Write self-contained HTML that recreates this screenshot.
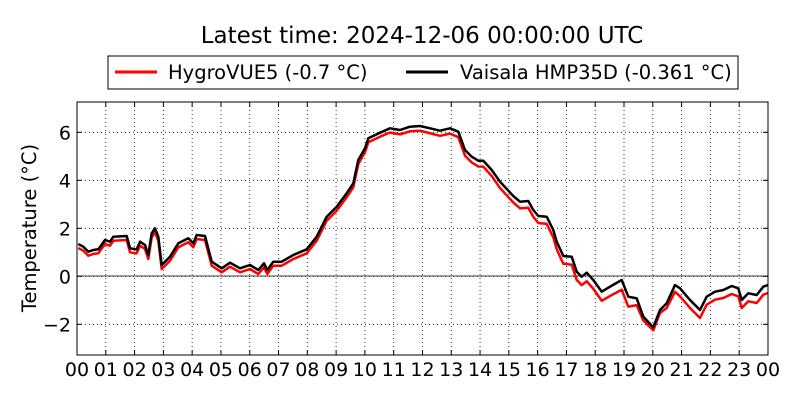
<!DOCTYPE html>
<html><head><meta charset="utf-8"><style>
body{margin:0;background:#fff;}
svg{display:block;font-family:"DejaVu Sans","Liberation Sans",sans-serif;}
</style></head><body>
<svg id="s" width="800" height="400" xmlns="http://www.w3.org/2000/svg">
<rect width="800" height="400" fill="#fff"/>
<text x="422" y="43" font-size="23" text-anchor="middle">Latest time: 2024-12-06 00:00:00 UTC</text>
<rect x="108" y="56" width="630" height="33" fill="#fff" stroke="#000" stroke-width="1"/>
<line x1="115" y1="72" x2="157" y2="72" stroke="#f00" stroke-width="3"/>
<text x="168" y="79" font-size="19.5">HygroVUE5 (-0.7 °C)</text>
<line x1="406" y1="72" x2="448" y2="72" stroke="#000" stroke-width="3"/>
<text x="460" y="79" font-size="19.5">Vaisala HMP35D (-0.361 °C)</text>
<g id="grid"></g>
<line x1="77" y1="276" x2="768" y2="276" stroke="#000" stroke-width="0.8"/>
<polyline id="red" fill="none" stroke="#f00" stroke-width="2.5" stroke-linejoin="round"/>
<polyline id="blk" fill="none" stroke="#000" stroke-width="2.5" stroke-linejoin="round"/>
<rect x="77" y="102" width="691" height="253" fill="none" stroke="#000" stroke-width="1"/>
<g id="lab" font-size="19"></g>
<text transform="translate(36,228) rotate(-90)" font-size="19.5" text-anchor="middle">Temperature (°C)</text>
</svg>
<script>
var P=[[78.3,244],[83.3,246.7],[88.3,251.7],[93.3,250],[98.3,249.3],[105,240],[110,241.7],[113.3,236.7],[126.7,236],[130,248.3],[136.7,249.3],[140,241.7],[145,245],[148.3,255],[151.7,233.3],[155,228.3],[158.3,236.7],[161.7,265],[170,256.7],[178.3,243.3],[188.3,238.3],[193.3,243.3],[196.7,235],[205,236],[211.7,261.7],[221.7,268.3],[230,262.7],[240,268.3],[250,265],[258.3,270],[264,263.3],[267.3,270],[273.3,261.7],[281.7,261.7],[293.3,255],[306.7,249.3],[316.7,236.7],[326.7,216.7],[336.7,206.7],[346.7,193.3],[353.3,183.3],[358.3,160],[365,148.3],[368.3,138.3],[380,132.7],[390,128.3],[400,130],[410,126.7],[420,126],[430,128.3],[440,130.7],[450,128.3],[458.3,131.7],[465,150],[471.7,156.7],[478.3,160.7],[483.3,160.7],[491.7,170],[500,181.7],[513.3,196],[520,201.7],[528.3,201],[533.3,210],[538.3,216],[546.7,216.7],[553.3,230],[556.7,241.7],[563.3,256],[571.7,256.7],[576.7,271.7],[581.7,276.7],[586.7,272.7],[593.3,280],[601.7,291.7],[610,286.7],[621.7,280],[628.3,296.7],[636.7,298.3],[643.3,316.7],[653.3,327.3],[660,310],[666.7,303.3],[675,285],[680,288.3],[690,300],[700,310],[706.7,296.7],[715,291.7],[723.3,290],[731.7,286],[738.3,288.3],[741.7,300],[748.3,293.3],[756.7,295],[763.3,286.7],[768,285]];
function off(x){if(x<380)return 4;if(x<540)return 4+(x-380)/160*3;if(x<630)return 7+(x-540)/90*3;if(x<645)return 10-(x-630)/15*7;if(x<660)return 3;if(x<680)return 3+(x-660)/20*5;return 8;}
document.getElementById('blk').setAttribute('points',P.map(p=>p[0]+','+p[1]).join(' '));
document.getElementById('red').setAttribute('points',P.map(p=>p[0]+','+(p[1]+off(p[0]))).join(' '));
var g='',l='';
for(var h=0;h<=24;h++){var x=77+h*28.79;
 if(h>0&&h<24)g+='<line x1="'+x+'" y1="102" x2="'+x+'" y2="355" stroke="#000" stroke-width="0.8" stroke-dasharray="1,3"/>';
 g+='<line x1="'+x+'" y1="102" x2="'+x+'" y2="107" stroke="#000"/><line x1="'+x+'" y1="355" x2="'+x+'" y2="350" stroke="#000"/>';
 l+='<text x="'+x+'" y="376" text-anchor="middle">'+String(h%24).padStart(2,'0')+'</text>';}
for(var v=-2;v<=6;v+=2){var y=276.3-24*v;
 g+='<line x1="77" y1="'+y+'" x2="768" y2="'+y+'" stroke="#000" stroke-width="0.8" stroke-dasharray="1,3"/>';
 g+='<line x1="77" y1="'+y+'" x2="82" y2="'+y+'" stroke="#000"/><line x1="768" y1="'+y+'" x2="763" y2="'+y+'" stroke="#000"/>';
 l+='<text x="71" y="'+(y+7)+'" text-anchor="end">'+(v<0?'\u2212'+(-v):v)+'</text>';}
document.getElementById('grid').innerHTML=g;document.getElementById('lab').innerHTML=l;
</script>
</body></html>
